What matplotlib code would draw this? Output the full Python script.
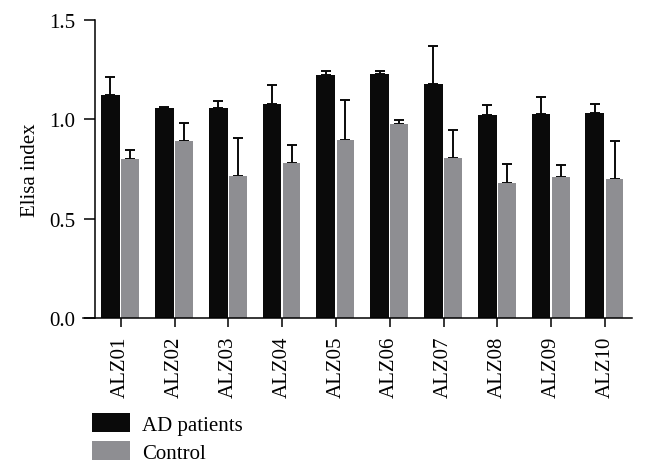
import numpy as np
from matplotlib import pyplot as plt
from matplotlib.patches import Patch

plt.rcParams['font.family'] = ['Liberation Serif', 'DejaVu Serif']

# values (mean and upper error)
samples = ['ALZ01', 'ALZ02', 'ALZ03', 'ALZ04', 'ALZ05',
           'ALZ06', 'ALZ07', 'ALZ08', 'ALZ09', 'ALZ10']
ad_mean = [1.122, 1.057, 1.058, 1.077, 1.223, 1.228, 1.179, 1.022, 1.027, 1.033]
ad_top = [1.214, 1.060, 1.090, 1.173, 1.243, 1.243, 1.369, 1.074, 1.112, 1.077]
ctrl_mean = [0.799, 0.889, 0.713, 0.782, 0.897, 0.976, 0.807, 0.681, 0.710, 0.700]
ctrl_top = [0.845, 0.981, 0.904, 0.872, 1.096, 0.998, 0.948, 0.773, 0.772, 0.889]
yticks = [0.0, 0.5, 1.0, 1.5]

black = '#0a0a0a'
grey = '#8e8e92'

fig = plt.figure(figsize=(6.46, 4.77), dpi=100)
ax = fig.add_axes([83 / 646, 1 - 319 / 477, 549 / 646, 298 / 477])

x = np.arange(len(samples))
ad_err = np.array(ad_top) - np.array(ad_mean)
ctrl_err = np.array(ctrl_top) - np.array(ctrl_mean)

ax.errorbar(x - 0.19, ad_mean, yerr=[np.zeros(len(x)), ad_err], fmt='none',
            ecolor=black, elinewidth=1.4, capsize=3.3, capthick=1.4, zorder=1)
ax.errorbar(x + 0.175, ctrl_mean, yerr=[np.zeros(len(x)), ctrl_err], fmt='none',
            ecolor=black, elinewidth=1.4, capsize=3.3, capthick=1.4, zorder=1)
ax.bar(x - 0.19, ad_mean, width=0.35, color=black, zorder=2)
ax.bar(x + 0.175, ctrl_mean, width=0.33, color=grey, zorder=2)

ax.set_xlim(-0.7, 9.5)
ax.set_ylim(0, 1.5)
ax.set_yticks(yticks)
ax.set_yticklabels(['%.1f' % t for t in yticks])
ax.set_xticks(x)
ax.set_xticklabels(samples, rotation=90)

for s in ['top', 'right']:
    ax.spines[s].set_visible(False)
ax.spines['left'].set_position(('data', -0.48))
ax.spines['left'].set_linewidth(1.1)
ax.spines['bottom'].set_linewidth(1.1)
ax.tick_params(axis='y', length=8, width=1.1, labelsize=15, pad=6)
ax.tick_params(axis='x', length=6.5, width=1.1, labelsize=15, pad=6)
ax.set_ylabel('Elisa index', fontsize=15, labelpad=7)

handles = [Patch(facecolor=black, label='AD patients'),
           Patch(facecolor=grey, label='Control')]
fig.legend(handles=handles, loc='upper left', bbox_to_anchor=(92 / 646, 1 - 414 / 477),
           frameon=False, fontsize=15, handlelength=1.8, handleheight=1.05,
           handletextpad=0.6, labelspacing=0.3, borderpad=0, borderaxespad=0)

fig.savefig('out.png', dpi=100)
